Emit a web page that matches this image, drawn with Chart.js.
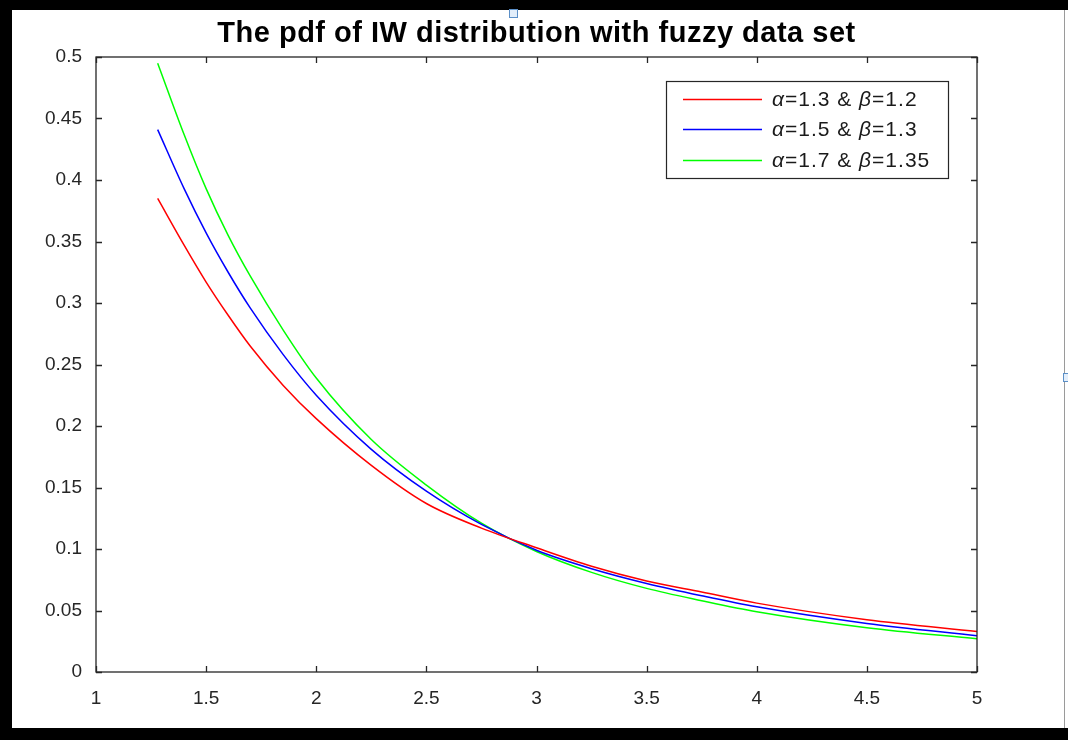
<!DOCTYPE html>
<html>
<head>
<meta charset="utf-8">
<script src="https://cdn.jsdelivr.net/npm/chart.js@4.4.1/dist/chart.umd.min.js"></script>
<style>
  html, body { margin: 0; padding: 0; background: #ffffff; }
  #wrap { position: relative; width: 1068px; height: 740px; overflow: hidden; background: #fff; }
  #c { position: absolute; left: 0; top: 0; }
  .bar { position: absolute; background: #000; pointer-events: none; }
  .handle { position: absolute; width: 7px; height: 7px; border: 1px solid #5b8fc7; background: #e3eefa; pointer-events: none; }
</style>
</head>
<body>
<div id="wrap">
  <canvas id="c" width="1068" height="740"></canvas>
  <div class="bar" style="left:0;top:0;width:1068px;height:10px;"></div>
  <div class="bar" style="left:0;top:0;width:12px;height:740px;"></div>
  <div class="bar" style="left:0;top:728px;width:1068px;height:12px;"></div>
  <div style="position:absolute;left:1064px;top:10px;width:1px;height:718px;background:#9a9a9a;"></div>
  <div class="handle" style="left:509px;top:9px;"></div>
  <div class="handle" style="left:1063px;top:373px;"></div>
</div>
<script>
// ---- data ----
const xValues = [1.28, 1.4, 1.5, 1.6, 1.7, 1.85, 2.0, 2.25, 2.5, 2.75, 3.0, 3.25, 3.5, 3.75, 4.0, 4.5, 5.0];
const seriesRed   = [0.385, 0.347, 0.317, 0.290, 0.265, 0.233, 0.206, 0.168, 0.137, 0.117, 0.101, 0.086, 0.074, 0.065, 0.056, 0.0425, 0.033];
const seriesBlue  = [0.441, 0.393, 0.357, 0.325, 0.296, 0.258, 0.225, 0.181, 0.147, 0.120, 0.099, 0.084, 0.072, 0.062, 0.053, 0.0395, 0.0295];
const seriesGreen = [0.495, 0.437, 0.393, 0.355, 0.322, 0.278, 0.239, 0.189, 0.152, 0.121, 0.098, 0.081, 0.068, 0.058, 0.049, 0.036, 0.027];
const seriesLabels = ["α=1.3 & β=1.2", "α=1.5 & β=1.3", "α=1.7 & β=1.35"];
const seriesColors = ["#ff0000", "#0000ff", "#00ff00"];
const xTickValues = [1, 1.5, 2, 2.5, 3, 3.5, 4, 4.5, 5];
const yTickValues = [0, 0.05, 0.1, 0.15, 0.2, 0.25, 0.3, 0.35, 0.4, 0.45, 0.5];
const titleText = "The pdf of IW distribution with fuzzy data set";

const FONT = "'Liberation Sans', Arial, Helvetica, sans-serif";
const AXIS_COLOR = "#262626";

function toPoints(ys) { return xValues.map((x, i) => ({ x: x, y: ys[i] })); }

const datasets = [seriesRed, seriesBlue, seriesGreen].map((ys, i) => ({
  label: seriesLabels[i],
  data: toPoints(ys),
  borderColor: seriesColors[i],
  backgroundColor: seriesColors[i],
  borderWidth: 1.5,
  pointRadius: 0,
  fill: false,
  cubicInterpolationMode: 'monotone'
}));

const fmt = v => String(parseFloat(Number(v).toFixed(2)));

const decor = {
  id: 'decor',
  afterDatasetsDraw(chart) {
    const ctx = chart.ctx;
    const a = chart.chartArea;
    const xs = chart.scales.x, ys = chart.scales.y;
    const tl = 6;
    ctx.save();
    ctx.strokeStyle = AXIS_COLOR;
    ctx.lineWidth = 1.3;
    ctx.strokeRect(a.left, a.top, a.right - a.left, a.bottom - a.top);
    ctx.beginPath();
    xTickValues.forEach(v => {
      const px = Math.round(xs.getPixelForValue(v)) + 0.5;
      ctx.moveTo(px, a.bottom); ctx.lineTo(px, a.bottom - tl);
      ctx.moveTo(px, a.top); ctx.lineTo(px, a.top + tl);
    });
    yTickValues.forEach(v => {
      const py = Math.round(ys.getPixelForValue(v)) + 0.5;
      ctx.moveTo(a.left, py); ctx.lineTo(a.left + tl, py);
      ctx.moveTo(a.right, py); ctx.lineTo(a.right - tl, py);
    });
    ctx.stroke();
    ctx.restore();
  },
  afterDraw(chart) {
    const ctx = chart.ctx;
    const a = chart.chartArea;
    ctx.save();
    // title
    ctx.fillStyle = "#000";
    ctx.font = "bold 29px " + FONT;
    ctx.letterSpacing = "0.5px";
    ctx.textAlign = "center";
    ctx.textBaseline = "middle";
    ctx.fillText(titleText, (a.left + a.right) / 2, 34);

    // legend
    const bx = 666, by = 81, bw = 282, bh = 97;
    ctx.fillStyle = "#fff";
    ctx.fillRect(bx, by, bw, bh);
    ctx.strokeStyle = AXIS_COLOR;
    ctx.lineWidth = 1.2;
    ctx.strokeRect(bx + 0.5, by + 0.5, bw, bh);
    const rowY = [99, 129, 160];
    chart.data.datasets.forEach((ds, i) => {
      const y = rowY[i];
      ctx.strokeStyle = ds.borderColor;
      ctx.lineWidth = 1.5;
      ctx.beginPath();
      ctx.moveTo(683, y + 0.5); ctx.lineTo(762, y + 0.5);
      ctx.stroke();
      let x = 772;
      ctx.textAlign = "left";
      ctx.textBaseline = "middle";
      ctx.fillStyle = "#1a1a1a";
      ctx.letterSpacing = "1px";
      const parts = ds.label.split(/([αβ])/);
      parts.forEach(p => {
        if (!p) return;
        ctx.font = (/[αβ]/.test(p) ? "italic " : "") + "21px " + FONT;
        ctx.fillText(p, x, y + 1);
        x += ctx.measureText(p).width;
      });
    });
    ctx.restore();
  }
};

new Chart(document.getElementById('c'), {
  type: 'line',
  data: { datasets: datasets },
  options: {
    responsive: false,
    devicePixelRatio: 1,
    animation: false,
    events: [],
    layout: { padding: { left: 0, right: 91, top: 57, bottom: 0 } },
    plugins: { legend: { display: false }, title: { display: false }, tooltip: { enabled: false } },
    scales: {
      x: {
        type: 'linear',
        min: 1, max: 5,
        afterFit(s) { s.height = 68; },
        afterBuildTicks(s) { s.ticks = xTickValues.map(v => ({ value: v })); },
        grid: { display: false, drawTicks: false },
        border: { display: false },
        ticks: {
          padding: 15,
          color: AXIS_COLOR,
          font: { family: FONT, size: 19 },
          maxRotation: 0,
          autoSkip: false,
          callback: v => fmt(v)
        }
      },
      y: {
        type: 'linear',
        min: 0, max: 0.5,
        afterFit(s) { s.width = 96; },
        afterBuildTicks(s) { s.ticks = yTickValues.map(v => ({ value: v })); },
        grid: { display: false, drawTicks: false },
        border: { display: false },
        ticks: {
          padding: 14,
          color: AXIS_COLOR,
          font: { family: FONT, size: 19 },
          autoSkip: false,
          callback: v => fmt(v)
        }
      }
    }
  },
  plugins: [decor]
});
</script>
</body>
</html>
